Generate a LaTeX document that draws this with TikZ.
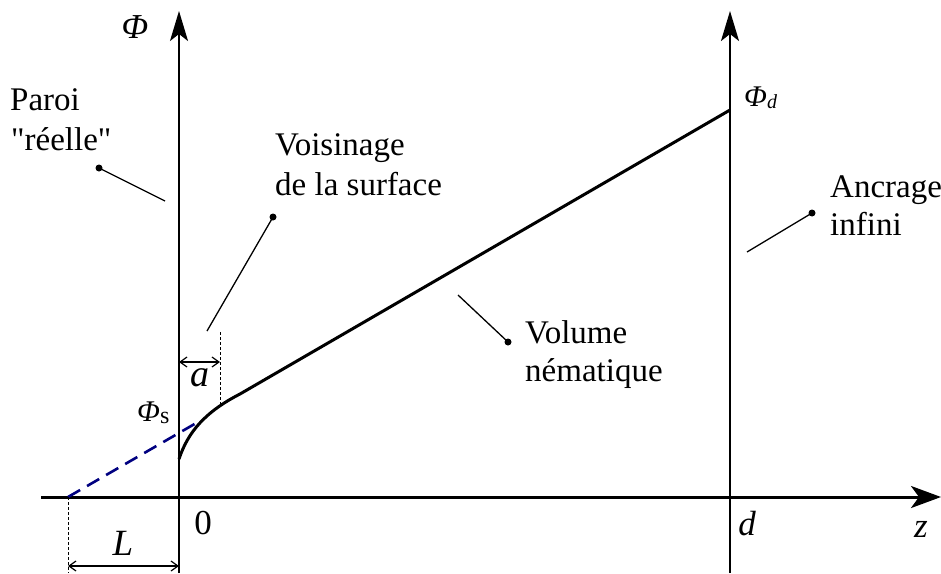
\documentclass[tikz,border=0pt]{standalone}
\usepackage{fontspec}
\setmainfont{Liberation Serif}[Ligatures=TeXOff]
\usetikzlibrary{arrows.meta}
\definecolor{dashblue}{RGB}{0,0,128}
\begin{document}
\begin{tikzpicture}[x=1pt,y=-1pt,
  lbl/.style={font=\fontsize{33}{40}\selectfont, inner sep=0pt, anchor=base west},
  mlbl/.style={font=\fontsize{35}{40}\selectfont\itshape, inner sep=0pt},
  slbl/.style={font=\fontsize{30}{34}\selectfont, inner sep=0pt},
  axis/.style={line width=2pt, -{Stealth[length=30pt, width=18pt, inset=7pt]}},
  haxis/.style={line width=3pt, -{Stealth[length=30pt, width=22pt, inset=8pt]}},
  curve/.style={line width=3pt},
  leader/.style={line width=1.3pt},
  dotend/.style={circle, fill=black, inner sep=0pt, minimum size=7pt},
  guide/.style={line width=1pt, dash pattern=on 3pt off 2pt},
  dimarr/.style={line width=1.2pt, {Straight Barb[length=7pt, width=10pt]}-{Straight Barb[length=7pt, width=10pt]}},
]
\useasboundingbox (0,0) rectangle (941,573);

% axes
\coordinate (ybot) at (179,573);
\coordinate (ytop) at (179,11);
\coordinate (dbot) at (730,573);
\coordinate (dtop) at (730,11);
\coordinate (xl) at (41,497);
\coordinate (xr) at (941,497);
\draw[axis] (ybot) -- (ytop);
\draw[axis] (dbot) -- (dtop);
\draw[haxis] (xl) -- (xr);

% profile
\coordinate (c0) at (179,459);
\coordinate (c1) at (240,394);
\coordinate (c2) at (730,110);
\draw[curve] (c0) .. controls (188,432) and (205,412) .. (c1) -- (c2);

% extrapolation
\coordinate (Lz) at (68,497);
\coordinate (Le) at (198,422);
\draw[line width=2.6pt, dashblue, dash pattern=on 14pt off 8pt] (Lz) -- (Le);

% L dimension
\coordinate (Lb) at (68,573);
\draw[guide] (Lz) -- (Lb);
\coordinate (La) at (68,566);
\coordinate (Lc) at (179,566);
\draw[dimarr] (La) -- (Lc);

% a dimension
\coordinate (at) at (220,332);
\coordinate (ab) at (220,405);
\draw[guide] (at) -- (ab);
\coordinate (aa) at (179,362);
\coordinate (ac) at (220,362);
\draw[dimarr] (aa) -- (ac);

% math labels
\node[mlbl] (phi) at (135,27) {Φ};
\node[slbl, anchor=base west] (phid) at (744,106) {\textit{Φ}\raisebox{-2pt}{\fontsize{20}{20}\selectfont\textit{d}}};
\node[slbl, anchor=base west] (phis) at (137,421) {\textit{Φ}\raisebox{-2pt}{\fontsize{24}{24}\selectfont s}};
\node[mlbl, font=\fontsize{38}{40}\selectfont\itshape] (la) at (200,378) {a};
\node[mlbl, font=\fontsize{37}{40}\selectfont\itshape] (lL) at (123,543) {L};
\node[font=\fontsize{35}{40}\selectfont, inner sep=0pt] (zero) at (203,523) {0};
\node[mlbl] (ld) at (747,524) {d};
\node[mlbl] (lz) at (921,529) {z};

% text labels
\node[lbl] (paroi1) at (10,110) {Paroi};
\node[lbl] (paroi2) at (11,150) {"réelle"};
\node[lbl] (vois1) at (275,155) {Voisinage};
\node[lbl] (vois2) at (275,195) {de la surface};
\node[lbl] (vol1) at (525,343) {Volume};
\node[lbl] (vol2) at (525,381) {nématique};
\node[lbl] (anc1) at (830,197) {Ancrage};
\node[lbl] (anc2) at (830,235) {infini};

% leaders
\node[dotend] (pd) at (99,168) {};
\coordinate (pe) at (165,201);
\draw[leader] (pd.center) -- (pe);
\node[dotend] (vd) at (273,217) {};
\coordinate (ve) at (207,331);
\draw[leader] (vd.center) -- (ve);
\node[dotend] (nd) at (508,342) {};
\coordinate (ne) at (458,295);
\draw[leader] (nd.center) -- (ne);
\node[dotend] (ad) at (812,213) {};
\coordinate (ae) at (747,252);
\draw[leader] (ad.center) -- (ae);
\end{tikzpicture}
\end{document}
